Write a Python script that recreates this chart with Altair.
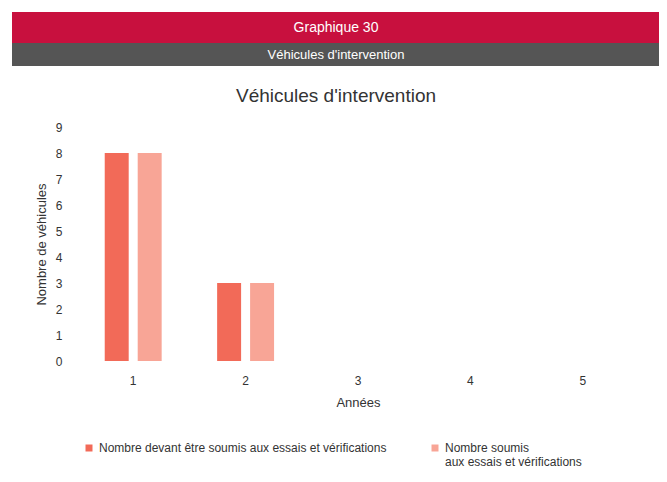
import altair as alt
import pandas as pd

# ---- data ----
annees = ["1", "2", "3", "4", "5"]
serie_a = "Nombre devant être soumis aux essais et vérifications"
serie_b = "Nombre soumis aux essais et vérifications"
valeurs_a = [8, 3, 0, 0, 0]
valeurs_b = [8, 3, 0, 0, 0]
couleurs = ["#F26A58", "#F8A596"]

rows = []
for an, va, vb in zip(annees, valeurs_a, valeurs_b):
    rows.append({"Année": an, "Série": serie_a, "Valeur": va})
    rows.append({"Année": an, "Série": serie_b, "Valeur": vb})
df = pd.DataFrame(rows)

FONT = "Liberation Sans"
TXT = "#333333"

label_expr = (
    "datum.label == 'Nombre soumis aux essais et vérifications' "
    "? ['Nombre soumis', 'aux essais et vérifications'] : [datum.label, ' ']"
)

bars = alt.Chart(df).mark_bar().encode(
    x=alt.X("Année:N", sort=annees,
            scale=alt.Scale(domain=annees, paddingInner=0, paddingOuter=0),
            axis=alt.Axis(title="Années", labelAngle=0, ticks=False, domain=False,
                          labelPadding=14, titlePadding=10, labelFontSize=12,
                          titleFontSize=13, titleFontWeight="normal",
                          labelColor=TXT, titleColor=TXT, labelFont=FONT, titleFont=FONT)),
    xOffset=alt.XOffset("Série:N", sort=[serie_a, serie_b],
                        scale=alt.Scale(paddingInner=0.273, paddingOuter=0.841)),
    y=alt.Y("Valeur:Q", scale=alt.Scale(domain=[0, 9], nice=False),
            axis=alt.Axis(title="Nombre de véhicules", values=list(range(10)), ticks=False,
                          domain=False, grid=False, labelPadding=15, titlePadding=7,
                          labelFontSize=12, titleFontSize=13, titleFontWeight="normal",
                          labelColor=TXT, titleColor=TXT, labelFont=FONT, titleFont=FONT)),
    color=alt.Color("Série:N", sort=[serie_a, serie_b],
                    scale=alt.Scale(domain=[serie_a, serie_b], range=couleurs),
                    legend=alt.Legend(title=None, orient="none", legendX=6, legendY=315,
                                      direction="horizontal", columns=2, columnPadding=42,
                                      symbolType="square", symbolSize=49, symbolStrokeWidth=0,
                                      labelFontSize=12, labelColor=TXT, labelFont=FONT,
                                      labelLimit=400, labelOffset=4,
                                      labelExpr=label_expr)),
)

one = pd.DataFrame({"k": [0]})
red_band = alt.Chart(one).mark_rect(color="#C8103E").encode(
    x=alt.value(-65), x2=alt.value(583), y=alt.value(-115), y2=alt.value(-84))
grey_band = alt.Chart(one).mark_rect(color="#555555").encode(
    x=alt.value(-65), x2=alt.value(583), y=alt.value(-84), y2=alt.value(-61))
t1 = alt.Chart(one).mark_text(text="Graphique 30", color="white", font=FONT, fontSize=14,
                              align="center", baseline="middle").encode(
    x=alt.value(259), y=alt.value(-99))
t2 = alt.Chart(one).mark_text(text="Véhicules d'intervention", color="white", font=FONT,
                              fontSize=13, align="center", baseline="middle").encode(
    x=alt.value(259), y=alt.value(-72))
title = alt.Chart(one).mark_text(text="Véhicules d'intervention", color=TXT, font=FONT,
                                 fontSize=19, align="center", baseline="alphabetic").encode(
    x=alt.value(259), y=alt.value(-25))

chart = alt.layer(red_band, grey_band, t1, t2, title, bars).properties(
    width=562, height=234,
    autosize=alt.AutoSizeParams(type="none"),
    padding={"left": 69, "top": 119, "right": 20, "bottom": 125},
    background="white",
).configure_view(stroke=None)

chart.save("out.html", embed_options={"renderer": "svg", "actions": False})
